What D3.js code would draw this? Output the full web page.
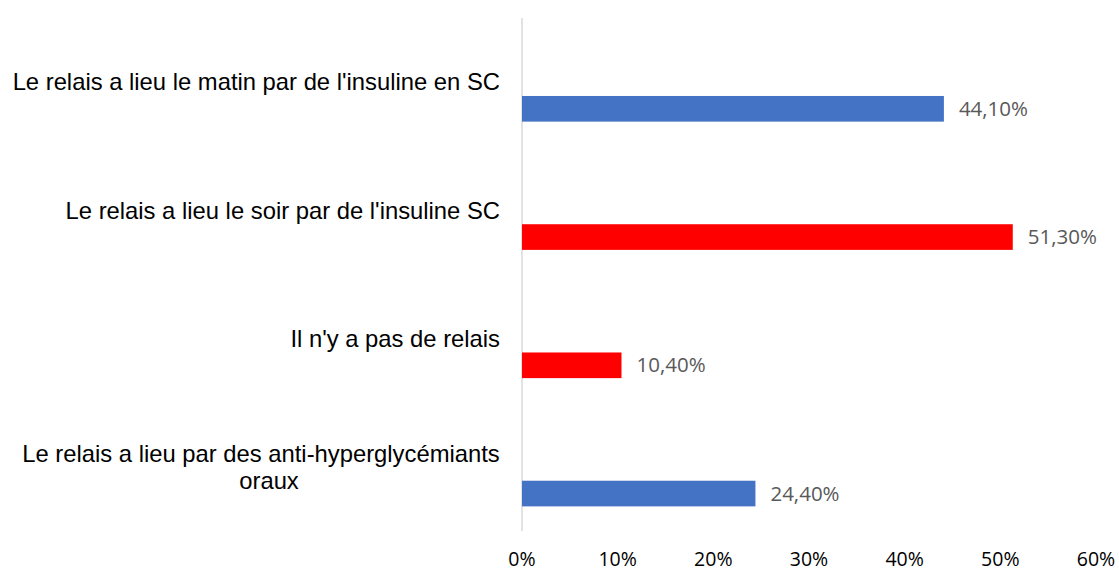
<!DOCTYPE html>
<html><head><meta charset="utf-8">
<script src="https://cdn.jsdelivr.net/npm/d3@7"></script>
<style>body{margin:0;background:#fff}svg{display:block}</style>
</head><body>
<svg id="c" width="1119" height="571"></svg>
<script>
const categories = [
  "Le relais a lieu le matin par de l'insuline en SC",
  "Le relais a lieu le soir par de l'insuline SC",
  "Il n'y a pas de relais",
  "Le relais a lieu par des anti-hyperglycémiants oraux"
];
const labelLines = [
  ["Le relais a lieu le matin par de l'insuline en SC"],
  ["Le relais a lieu le soir par de l'insuline SC"],
  ["Il n'y a pas de relais"],
  ["Le relais a lieu par des anti-hyperglycémiants", "oraux"]
];
const values = [0.441, 0.513, 0.104, 0.244];
const valueLabels = ["44,10%", "51,30%", "10,40%", "24,40%"];
const colors = ["#4472C4", "#FF0000", "#FF0000", "#4472C4"];
const ticks = [0, 0.1, 0.2, 0.3, 0.4, 0.5, 0.6];
const tickLabels = ["0%", "10%", "20%", "30%", "40%", "50%", "60%"];

const svg = d3.select("#c");
const x = d3.scaleLinear().domain([0, 0.6]).range([522, 1096]);
const y = d3.scaleBand().domain(categories).range([18, 531]);
const bw = y.bandwidth();

// axis line
svg.append("line").attr("x1", x(0)).attr("x2", x(0)).attr("y1", 18).attr("y2", 531)
  .attr("stroke", "#d9d9d9").attr("stroke-width", 1.5);

// bars
svg.selectAll("rect.bar").data(categories).join("rect").attr("class", "bar")
  .attr("x", x(0)).attr("y", d => y(d) + bw * 0.608)
  .attr("width", (d, i) => x(values[i]) - x(0))
  .attr("height", bw * 0.2)
  .attr("fill", (d, i) => colors[i]);

// value labels
svg.selectAll("text.val").data(categories).join("text").attr("class", "val")
  .attr("x", (d, i) => x(values[i]) + 15)
  .attr("y", d => y(d) + bw * 0.708)
  .attr("dy", "0.35em")
  .attr("font-family", "'Open Sans', sans-serif").attr("font-size", 20.5)
  .attr("fill", "#595959")
  .text((d, i) => valueLabels[i]);

// category labels
categories.forEach((c, i) => {
  const lines = labelLines[i];
  const cy = y(c) + bw / 2;
  const g = svg.append("text")
    .attr("font-family", "'Liberation Sans', Arial, sans-serif").attr("font-size", 23.8)
    .attr("fill", "#000");
  if (lines.length === 1) {
    g.attr("text-anchor", "end").append("tspan").attr("x", 500).attr("y", cy).attr("dy", "0.35em").text(lines[0]);
  } else {
    g.attr("text-anchor", "middle");
    lines.forEach((l, k) => {
      g.append("tspan").attr("x", 261 + k * 8).attr("y", cy + (k - (lines.length - 1) / 2) * 27)
        .attr("dy", "0.35em").text(l);
    });
  }
});

// ticks
svg.selectAll("text.tick").data(ticks).join("text").attr("class", "tick")
  .attr("x", d => x(d)).attr("y", 559).attr("dy", "0.35em")
  .attr("text-anchor", "middle")
  .attr("font-family", "'Open Sans', sans-serif").attr("font-size", 19.5)
  .attr("fill", "#000")
  .text((d, i) => tickLabels[i]);
</script>
</body></html>
